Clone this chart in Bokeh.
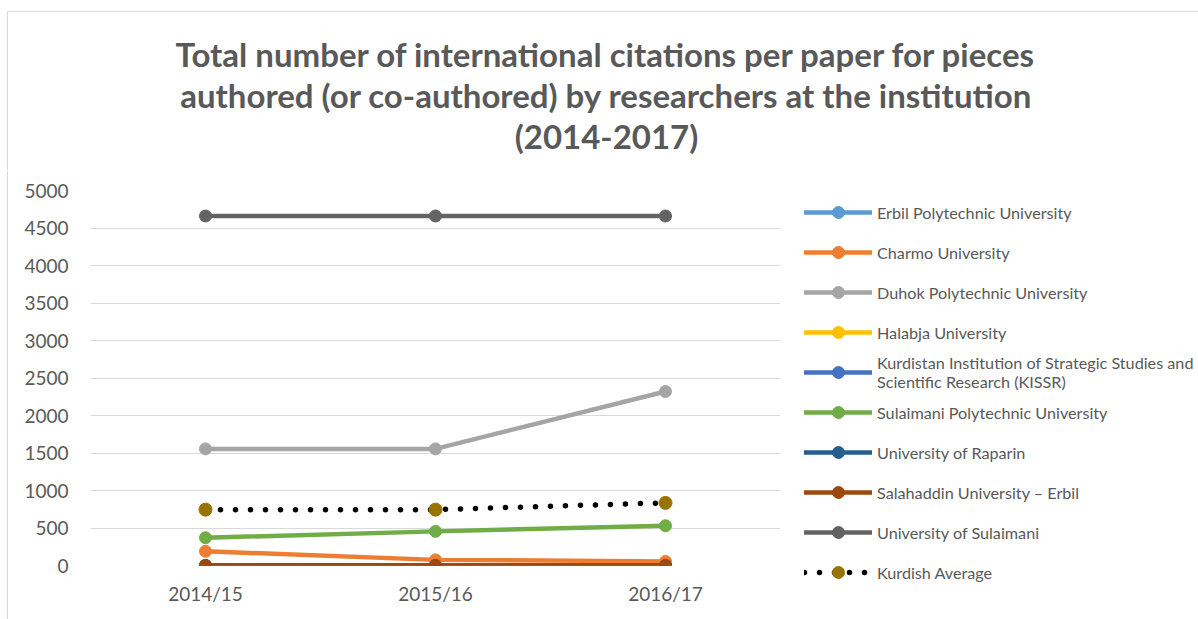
from bokeh.plotting import figure
from bokeh.layouts import column, row
from bokeh.models import Range1d, FactorRange, Legend, LegendItem, Label, Span, FixedTicker
from bokeh.embed import file_html
from bokeh.resources import INLINE

years = ["2014/15", "2015/16", "2016/17"]

series_names = [
    "Erbil Polytechnic University",
    "Charmo University",
    "Duhok Polytechnic University",
    "Halabja University",
    "Kurdistan Institution of Strategic Studies and\nScientific Research (KISSR)",
    "Sulaimani Polytechnic University",
    "University of Raparin",
    "Salahaddin University \u2013 Erbil",
    "University of Sulaimani",
    "Kurdish Average",
]

erbil_poly = [0, 0, 0]
charmo = [190, 75, 55]
duhok_poly = [1555, 1555, 2320]
halabja = [0, 0, 0]
kissr = [0, 0, 0]
sulaimani_poly = [370, 455, 530]
raparin = [0, 0, 0]
salahaddin = [0, 0, 0]
sulaimani = [4660, 4660, 4660]
kurdish_avg = [745, 745, 835]

y_ticks = [0, 500, 1000, 1500, 2000, 2500, 3000, 3500, 4000, 4500, 5000]

colors = ["#5B9BD5", "#ED7D31", "#A5A5A5", "#FFC000", "#4472C4",
          "#70AD47", "#255E91", "#9E480E", "#636363", "#997300"]

title_lines = [
    "Total number of international citations per paper for pieces",
    "authored (or co-authored) by researchers at the institution",
    "(2014-2017)",
]

FONT = "Lato"
TXT = "#595959"
BORDER = "#D9D9D9"


def blank(w, h, xr, yr):
    f = figure(width=w, height=h, x_range=xr, y_range=yr, output_backend="svg",
               toolbar_location=None, min_border=0,
               x_axis_location=None, y_axis_location=None)
    f.grid.visible = False
    f.outline_line_color = None
    f.background_fill_color = "white"
    f.border_fill_color = "white"
    return f


# ---- title strip ----
pt = blank(1198, 170, Range1d(0, 1198), Range1d(170, 0))
pt.segment(x0=[7, 7], y0=[11, 11], x1=[1198, 7], y1=[11, 170],
           line_color=BORDER, line_width=1)
for i, t in enumerate(title_lines):
    pt.add_layout(Label(x=606, y=53 + 41 * i, text=t, text_align="center",
                        text_baseline="alphabetic", text_font=FONT,
                        text_font_style="bold", text_font_size="33px",
                        text_color=TXT))

# ---- left border strip ----
ps = blank(8, 449, Range1d(0, 8), Range1d(0, 449))
ps.add_layout(Span(location=7, dimension="height", line_color=BORDER, line_width=1))

# ---- main chart ----
p = figure(width=772, height=449, x_range=FactorRange(*years, range_padding=0),
           y_range=Range1d(0, 5000), output_backend="svg", toolbar_location=None,
           min_border_left=82, min_border_right=0, min_border_top=20,
           min_border_bottom=54)
p.outline_line_color = None
p.background_fill_color = "white"
p.border_fill_color = "white"
p.xgrid.grid_line_color = None
p.ygrid.grid_line_color = BORDER
p.ygrid.grid_line_width = 1
p.yaxis.ticker = FixedTicker(ticks=y_ticks)
for ax in (p.xaxis, p.yaxis):
    ax.axis_line_color = None
    ax.major_tick_line_color = None
    ax.minor_tick_line_color = None
    ax.major_label_text_font = FONT
    ax.major_label_text_font_size = "19px"
    ax.major_label_text_color = TXT
p.yaxis.major_label_standoff = 16
p.xaxis.major_label_standoff = 10

# ---- legend panel (its own copies of the series sit outside its visible range) ----
pl = blank(418, 449, FactorRange(*years), Range1d(-2, -1))

all_series = [erbil_poly, charmo, duhok_poly, halabja, kissr,
              sulaimani_poly, raparin, salahaddin, sulaimani]

items = []
for name, vals, col in zip(series_names[:9], all_series, colors[:9]):
    p.line(years, vals, line_color=col, line_width=4.5,
           line_cap="round", line_join="round")
    p.scatter(years, vals, size=12, fill_color=col, line_color=col, marker="circle")
    l1 = pl.line(years, vals, line_color=col, line_width=4.5, line_cap="round")
    l2 = pl.scatter(years, vals, size=12, fill_color=col, line_color=col, marker="circle")
    items.append(LegendItem(label=name, renderers=[l1, l2]))

p.line(years, kurdish_avg, line_color="black", line_width=5.5,
       line_dash="0 15", line_cap="round")
p.scatter(years, kurdish_avg, size=13, fill_color=colors[9],
          line_color=colors[9], marker="circle")
la = pl.line(years, kurdish_avg, line_color="black", line_width=5.5,
             line_dash="0 15", line_cap="round")
lb = pl.scatter(years, kurdish_avg, size=13, fill_color=colors[9],
                line_color=colors[9], marker="circle")
items.append(LegendItem(label=series_names[9], renderers=[la, lb]))

legend = Legend(items=items, location=(24, 27), orientation="vertical",
                glyph_width=68, glyph_height=30, label_height=40,
                label_standoff=5, spacing=0, padding=0, margin=0,
                border_line_color=None, background_fill_alpha=0,
                label_text_font=FONT, label_text_font_size="16.2px",
                label_text_color=TXT)
pl.add_layout(legend, "center")

layout = column(pt, row(column(ps, spacing=0), p, column(pl, spacing=0), spacing=0),
                spacing=0)

open("out.html", "w").write(file_html(layout, INLINE))
